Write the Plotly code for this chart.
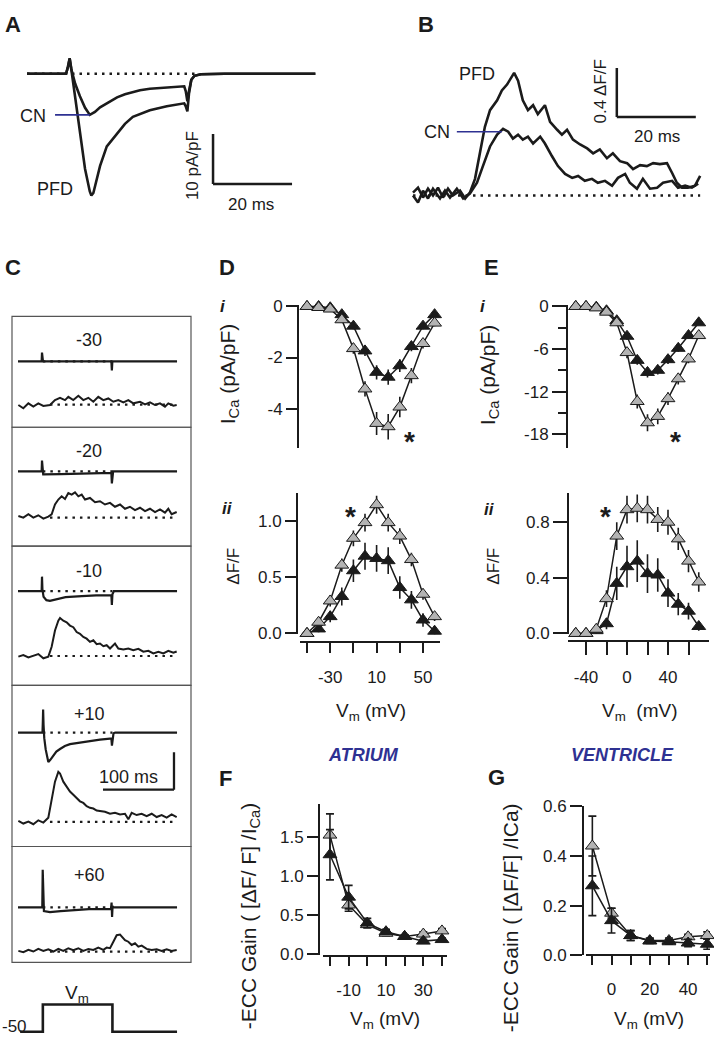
import plotly.graph_objects as go

W, H = 714, 1044
FONT = "Liberation Sans, Arial, Helvetica, sans-serif"
INK = "#1b1b1b"
GRAY = "#b3b3b3"
BLUE = "#2e3192"

# ---------------- data ----------------
# A : whole-cell current (pA/pF) vs time (ms)
A_t_cn = [0, 5, 9.9, 10.4, 10.8, 11.2, 12.2, 13.4, 14.7, 15.9, 17.2, 18.5, 21.0, 22.8, 24.8, 28.6, 31.1, 35.4, 39.8, 40.2, 40.6, 41.0, 41.6, 42.4, 44.0, 50.0, 60.0, 73.0]
A_cn = [0, 0.05, 0, 1.5, 3.0, 1.0, -2.0, -4.5, -6.8, -8.2, -7.6, -6.7, -5.5, -4.7, -4.1, -3.3, -3.0, -2.7, -2.5, -3.5, -5.5, -3.5, -1.2, -0.4, -0.1, 0, 0.05, 0]
A_t_pfd = [0, 5, 9.9, 10.4, 10.8, 11.2, 12.2, 13.4, 14.7, 15.9, 16.3, 16.8, 18.5, 20.2, 22.8, 24.8, 26.8, 31.1, 35.4, 39.8, 40.2, 40.6, 41.0, 41.6, 42.4, 44.0, 50.0, 60.0, 73.0]
A_pfd = [0, 0.05, 0, 1.5, 3.1, 1.0, -5.0, -12.0, -19.0, -23.5, -24.3, -23.8, -18.4, -14.5, -11.9, -10.0, -8.6, -7.3, -6.5, -5.9, -6.5, -7.5, -4.0, -1.2, -0.4, -0.1, 0, 0.05, 0]

# B : Ca transients (dF/F) vs time (ms)
B_t_pfd = [0.0, 1.27, 2.53, 3.80, 5.06, 6.33, 7.59, 8.86, 10.1, 11.9, 13.2, 14.4, 15.7, 17.0, 18.2, 19.5, 21.3, 22.5, 23.8, 25.6, 26.6, 27.8, 29.1, 30.4, 31.6, 33.4, 34.7, 36.5, 37.7, 39.0, 40.5, 42.3, 44.1, 45.6, 47.3, 49.1, 50.6, 52.4, 54.2, 55.7, 57.5, 59.2, 60.8, 62.5, 64.3, 65.6, 66.8, 68.1, 69.6, 71.4, 72.7]
B_pfd = [0.024, 0.064, -0.016, 0.056, 0.0, 0.064, -0.016, 0.056, 0.0, 0.04, -0.024, 0.024, 0.136, 0.344, 0.56, 0.696, 0.776, 0.856, 0.904, 1.0, 0.936, 0.776, 0.696, 0.736, 0.664, 0.736, 0.6, 0.536, 0.496, 0.536, 0.456, 0.416, 0.384, 0.344, 0.376, 0.304, 0.344, 0.28, 0.264, 0.216, 0.248, 0.24, 0.264, 0.256, 0.264, 0.184, 0.104, 0.064, 0.064, 0.08, 0.16]
B_t_cn = [0.0, 1.27, 2.53, 3.80, 5.06, 6.84, 8.10, 9.37, 11.1, 12.7, 14.4, 16.2, 17.7, 19.5, 21.3, 22.8, 24.1, 25.3, 26.6, 27.8, 29.1, 30.4, 32.2, 33.4, 35.2, 36.7, 38.5, 40.3, 41.8, 43.5, 45.3, 46.8, 48.6, 50.4, 51.9, 53.7, 54.9, 56.7, 58.2, 60.0, 61.8, 63.3, 65.6, 67.1, 68.9, 70.6, 72.2]
B_cn = [0.0, -0.056, 0.04, -0.024, 0.056, -0.024, 0.04, -0.016, 0.056, -0.024, 0.016, 0.104, 0.24, 0.4, 0.496, 0.544, 0.52, 0.464, 0.496, 0.456, 0.48, 0.424, 0.48, 0.424, 0.32, 0.24, 0.176, 0.144, 0.16, 0.12, 0.136, 0.104, 0.12, 0.08, 0.144, 0.176, 0.104, 0.056, 0.136, 0.056, 0.064, 0.104, 0.12, 0.064, 0.08, 0.064, 0.096]

# C : example records at five test potentials (current, then dF/F), time in ms
C_labels = ["-30", "-20", "-10", "+10", "+60"]
C_cur_t = [
    [0, 33.3, 33.8, 34.4, 35.2, 131.5, 132.2, 132.9, 224],
    [0, 33.3, 33.8, 34.4, 35.5, 60, 100, 131.5, 132.2, 133, 134, 224],
    [0, 33.3, 33.8, 34.4, 36, 40, 45, 52, 67, 90, 110, 131.5, 132.2, 133, 135, 224],
    [0, 34.5, 35, 35.4, 36, 37, 39, 41, 42.7, 45.5, 49.7, 54, 59.2, 66, 73.2, 92, 115.5, 129.6, 131.5, 132.3, 133.3, 134.5, 137, 224],
    [0, 34.2, 34.8, 35.4, 36.5, 45, 60, 100, 131, 131.8, 132.5, 133.2, 134.5, 224],
]
C_cur = [
    [0, 0, 2.4, 0, 0, 0, -2.4, 0, 0],
    [0, 0, 2.9, 0, -0.8, -0.7, -0.5, -0.4, -3.2, -0.3, 0, 0],
    [0, 0, 3.9, 0.5, -1.5, -2.4, -2.6, -2.3, -1.6, -1.3, -1.1, -1.1, -3.7, -0.8, 0, 0],
    [0, 0, 3, 6.2, 2, -1.5, -4.5, -7, -7.9, -7.3, -6.1, -5.1, -4.4, -3.6, -3.1, -2.5, -1.9, -1.6, -1.6, -3.5, -1.2, -0.2, 0, 0],
    [0, 0, 10.1, 0, -1.0, -1.3, -1.0, -0.5, -0.4, 1.3, -2.6, 0.3, 0, 0],
]
C_fl_t = [
    [0.5, 7.5, 14.6, 21.6, 28.6, 35.7, 45.1, 52.1, 59.2, 66.2, 70.9, 77.9, 85.0, 92.0, 99.1, 106.1, 113.1, 120.2, 127.2, 134.3, 141.3, 148.4, 155.4, 162.4, 171.8, 178.9, 185.9, 193.0, 200.0, 207.0, 211.7, 218.8, 223.5],
    [0.5, 7.5, 14.6, 21.6, 28.6, 35.7, 42.7, 47.4, 52.1, 56.8, 61.5, 66.2, 70.9, 75.6, 80.3, 85.0, 89.7, 94.4, 101.4, 108.5, 115.5, 122.5, 129.6, 136.6, 143.7, 150.7, 157.7, 164.8, 171.8, 178.9, 185.9, 193.0, 200.0, 207.0, 211.7, 216.4, 223.5],
    [0.5, 7.5, 14.6, 21.6, 28.6, 35.7, 42.7, 47.4, 52.1, 56.8, 59.2, 63.8, 68.5, 73.2, 77.9, 82.6, 87.3, 92.0, 96.7, 101.4, 106.1, 110.8, 115.5, 120.2, 124.9, 129.6, 136.6, 141.3, 148.4, 155.4, 162.4, 169.5, 176.5, 183.6, 190.6, 197.7, 204.7, 211.7, 218.8, 223.5],
    [0.5, 7.5, 14.6, 21.6, 28.6, 35.7, 42.7, 47.4, 52.1, 56.8, 59.2, 63.8, 68.5, 73.2, 77.9, 82.6, 87.3, 92.0, 96.7, 101.4, 106.1, 110.8, 115.5, 122.5, 129.6, 136.6, 143.7, 150.7, 155.4, 160.1, 167.1, 174.2, 181.2, 188.3, 195.3, 202.3, 209.4, 216.4, 223.5],
    [0.5, 7.5, 14.6, 21.6, 28.6, 35.7, 42.7, 49.8, 56.8, 63.8, 70.9, 77.9, 85.0, 92.0, 99.1, 106.1, 113.1, 120.2, 124.9, 129.6, 134.3, 139.0, 143.7, 147.4, 150.7, 155.4, 160.1, 164.8, 169.5, 174.2, 181.2, 188.3, 195.3, 202.3, 209.4, 216.4, 223.5],
]
C_fl = [
    [-0.007, -0.073, 0.027, -0.04, 0.027, -0.027, -0.007, 0.093, 0.14, 0.093, 0.16, 0.093, 0.18, 0.093, 0.14, 0.06, 0.16, 0.093, 0.127, 0.06, 0.093, 0.047, 0.093, 0.027, 0.06, 0.007, 0.047, -0.007, 0.027, -0.04, 0.027, -0.02, -0.007],
    [0.033, 0.0, 0.067, 0.0, 0.047, -0.02, 0.02, 0.067, 0.267, 0.367, 0.433, 0.38, 0.5, 0.467, 0.513, 0.433, 0.467, 0.367, 0.4, 0.313, 0.333, 0.267, 0.3, 0.22, 0.267, 0.18, 0.22, 0.153, 0.2, 0.133, 0.18, 0.113, 0.167, 0.1, 0.18, 0.067, 0.113],
    [-0.013, 0.02, -0.027, 0.0, 0.04, -0.047, -0.013, 0.187, 0.52, 0.72, 0.773, 0.72, 0.687, 0.62, 0.587, 0.487, 0.453, 0.387, 0.353, 0.287, 0.32, 0.24, 0.253, 0.2, 0.22, 0.153, 0.253, 0.153, 0.133, 0.153, 0.12, 0.147, 0.087, 0.107, 0.053, 0.087, 0.053, 0.107, 0.067, 0.093],
    [0.02, -0.033, 0.007, -0.047, 0.033, -0.013, 0.087, 0.42, 0.82, 1.02, 0.987, 0.82, 0.72, 0.62, 0.553, 0.487, 0.42, 0.387, 0.32, 0.287, 0.273, 0.233, 0.22, 0.207, 0.167, 0.187, 0.153, 0.167, 0.053, 0.187, 0.14, 0.167, 0.12, 0.167, 0.1, 0.14, 0.087, 0.153, 0.1],
    [0.013, -0.013, 0.033, 0.0, 0.053, 0.013, 0.047, 0.0, 0.053, 0.013, 0.067, 0.027, 0.067, 0.013, 0.053, 0.033, 0.08, 0.033, 0.08, 0.067, 0.2, 0.333, 0.347, 0.28, 0.233, 0.2, 0.133, 0.167, 0.1, 0.12, 0.053, 0.033, 0.047, 0.013, 0.047, 0.013, 0.033],
]
C_vm_t = [3, 35, 35, 133, 133, 224]
C_vm = [-50, -50, 0, 0, -50, -50]

# D : atrium I-V and dF/F-V (black = CN, gray = PFD)
D_v = [-50, -40, -30, -20, -10, 0, 10, 20, 30, 40, 50, 60]
D_i_gray = [0, -0.04, -0.1, -0.52, -1.65, -3.23, -4.58, -4.71, -3.94, -2.71, -1.45, -0.65]
D_i_gray_err = [0.03, 0.03, 0.05, 0.1, 0.2, 0.3, 0.45, 0.5, 0.4, 0.3, 0.2, 0.12]
D_i_black = [0, 0, -0.05, -0.32, -0.77, -1.74, -2.58, -2.77, -2.32, -1.57, -0.77, -0.32]
D_i_black_err = [0.02, 0.02, 0.03, 0.08, 0.12, 0.2, 0.28, 0.3, 0.25, 0.18, 0.12, 0.08]
D_f_gray = [0.0, 0.10, 0.29, 0.61, 0.85, 0.99, 1.15, 0.99, 0.87, 0.66, 0.35, 0.15]
D_f_gray_err = [0.01, 0.03, 0.05, 0.06, 0.07, 0.08, 0.08, 0.08, 0.07, 0.06, 0.05, 0.04]
D_f_black = [0.0, 0.04, 0.15, 0.33, 0.56, 0.69, 0.67, 0.65, 0.41, 0.30, 0.12, 0.02]
D_f_black_err = [0.01, 0.03, 0.05, 0.08, 0.1, 0.12, 0.12, 0.12, 0.1, 0.08, 0.06, 0.03]

# E : ventricle
E_v = [-50, -40, -30, -20, -10, 0, 10, 20, 30, 40, 50, 60, 70]
E_i_gray = [0, 0, -0.2, -0.8, -2.3, -6.5, -13.4, -16.4, -15.5, -13.0, -10.2, -7.4, -4.1]
E_i_gray_err = [0.05, 0.05, 0.1, 0.2, 0.4, 0.8, 1.0, 1.2, 1.1, 0.9, 0.8, 0.6, 0.5]
E_i_black = [0, 0, -0.1, -0.6, -2.0, -4.2, -7.6, -9.3, -9.0, -7.5, -5.9, -4.1, -2.3]
E_i_black_err = [0.05, 0.05, 0.1, 0.2, 0.3, 0.5, 0.6, 0.7, 0.6, 0.6, 0.5, 0.4, 0.3]
E_f_gray = [0, 0, 0.03, 0.25, 0.70, 0.89, 0.90, 0.89, 0.82, 0.80, 0.68, 0.52, 0.37]
E_f_gray_err = [0.01, 0.01, 0.02, 0.06, 0.1, 0.1, 0.1, 0.1, 0.09, 0.09, 0.08, 0.08, 0.07]
E_f_black = [0, 0, 0.02, 0.07, 0.36, 0.48, 0.52, 0.43, 0.42, 0.29, 0.21, 0.16, 0.05]
E_f_black_err = [0.01, 0.01, 0.02, 0.04, 0.12, 0.15, 0.15, 0.14, 0.12, 0.1, 0.08, 0.06, 0.03]

# F, G : ECC gain
F_v = [-20, -10, 0, 10, 20, 30, 40]
F_gray = [1.52, 0.63, 0.38, 0.27, 0.23, 0.26, 0.30]
F_gray_err = [0.27, 0.08, 0.04, 0.03, 0.02, 0.03, 0.03]
F_black = [1.27, 0.73, 0.40, 0.29, 0.23, 0.17, 0.19]
F_black_err = [0.32, 0.15, 0.06, 0.03, 0.02, 0.02, 0.02]
G_v = [-10, 0, 10, 20, 30, 40, 50]
G_gray = [0.44, 0.17, 0.08, 0.06, 0.06, 0.075, 0.08]
G_gray_err = [0.12, 0.02, 0.02, 0.01, 0.01, 0.01, 0.015]
G_black = [0.28, 0.14, 0.08, 0.058, 0.055, 0.05, 0.045]
G_black_err = [0.12, 0.05, 0.02, 0.01, 0.01, 0.015, 0.02]

# ---------------- helpers ----------------
fig = go.Figure()
axes = {}
shapes = []
annots = []


def akey(ref):
    return ('xaxis' if ref[0] == 'x' else 'yaxis') + ref[1:]


def base_axis():
    return dict(showgrid=False, zeroline=False, showline=False, showticklabels=False,
                ticks='', fixedrange=True, anchor='free', position=0)


def set_x(ref, p0, p1, pa, va, pb, vb, **kw):
    s = (vb - va) / (pb - pa)
    d = base_axis()
    d.update(domain=[p0 / W, p1 / W], range=[va + (p0 - pa) * s, va + (p1 - pa) * s])
    d.update(kw)
    axes[akey(ref)] = d


def set_y(ref, top, bottom, pa, va, pb, vb, **kw):
    s = (vb - va) / (pb - pa)
    d = base_axis()
    d.update(domain=[1 - bottom / H, 1 - top / H], range=[va + (bottom - pa) * s, va + (top - pa) * s])
    d.update(kw)
    axes[akey(ref)] = d


def vis(vals, texts, ticklen, pos, minor_vals=None, minor_len=None, **kw):
    d = dict(showline=True, linecolor=INK, linewidth=2, ticks='outside', tickcolor=INK,
             tickwidth=2, ticklen=ticklen, showticklabels=True, tickmode='array',
             tickvals=vals, ticktext=texts, tickfont=dict(size=17, color=INK, family=FONT),
             position=pos)
    if minor_vals:
        d['minor'] = dict(tickmode='array', tickvals=minor_vals, ticks='outside',
                          ticklen=minor_len or ticklen, tickwidth=2, tickcolor=INK)
    d.update(kw)
    return d


def trace_line(xr, yr, x, y, width=2.4, color=INK):
    fig.add_trace(go.Scatter(x=x, y=y, xaxis=xr, yaxis=yr, mode='lines',
                             line=dict(color=color, width=width), hoverinfo='skip'))


def trace_pts(xr, yr, x, y, err, fill, cap=0):
    fig.add_trace(go.Scatter(
        x=x, y=y, xaxis=xr, yaxis=yr, mode='lines+markers', cliponaxis=False,
        line=dict(color=INK, width=1.5),
        marker=dict(symbol='triangle-up', size=12, color=fill, line=dict(color=INK, width=1)),
        error_y=dict(type='data', array=err, visible=True, color=INK, thickness=1.6, width=cap),
        hoverinfo='skip'))


def seg(xr, yr, x0, y0, x1, y1, width=2.5, color=INK, dash=None):
    ln = dict(color=color, width=width)
    if dash:
        ln['dash'] = dash
    shapes.append(dict(type='line', xref=xr, yref=yr, x0=x0, y0=y0, x1=x1, y1=y1, line=ln))


def txt(s, px, py, size=17, color=INK, angle=0, xanchor='center'):
    annots.append(dict(text=s, x=px / W, y=1 - py / H, xref='paper', yref='paper', showarrow=False,
                       font=dict(size=size, color=color, family=FONT), textangle=angle,
                       xanchor=xanchor, yanchor='middle'))


DOT = '2.5px,5px'

# ---------------- A ----------------
set_x('x', 20, 322, 27, 0, 27 + 3.95, 1)
set_y('y', 40, 205, 66, 0, 66 - 5.1, 1)
seg('x', 'y', 0, 0, 42.5, 0, width=2.5, dash=DOT)
trace_line('x', 'y', A_t_cn, A_cn, 2.6)
trace_line('x', 'y', A_t_pfd, A_pfd, 2.6)
seg('x', 'y', 7.1, -8.2, 15.9, -8.2, width=1.6, color=BLUE)
seg('x', 'y', 47.1, -12, 47.1, -22, width=2.5)
seg('x', 'y', 47.1, -22, 67.1, -22, width=2.5)
txt("CN", 33, 108.5, 18)
txt("PFD", 55, 183.5, 18)
txt("10 pA/pF", 192, 160, 17, angle=-90)
txt("20 ms", 251, 199, 17)

# ---------------- B ----------------
set_x('x2', 405, 712, 413, 0, 413 + 3.95, 1)
set_y('y2', 40, 205, 190, 0, 190 - 125, 1)
seg('x2', 'y2', 0, 0, 72.7, 0, width=2.5, dash=DOT)
trace_line('x2', 'y2', B_t_pfd, B_pfd, 2.6)
trace_line('x2', 'y2', B_t_cn, B_cn, 2.6)
seg('x2', 'y2', 11.1, 0.52, 22.5, 0.52, width=1.6, color=BLUE)
seg('x2', 'y2', 51.6, 1.04, 51.6, 0.64, width=2.5)
seg('x2', 'y2', 51.6, 0.64, 71.6, 0.64, width=2.5)
txt("PFD", 477, 66, 18)
txt("CN", 437, 125, 18)
txt("0.4 ΔF/F", 600, 84, 17, angle=-90)
txt("20 ms", 657, 130, 17)

# ---------------- C ----------------
set_x('x3', 12, 191, 18, 0, 18.71, 1)
boxes = [(313, 426), (426, 547), (547, 689), (689, 853), (853, 971)]
cur_base = [359, 471, 593, 737, 915]
fl_base = [403, 518, 659, 828, 960]
lab_y = [337, 450, 572, 718, 882]
for i in range(5):
    top, bot = boxes[i]
    yc = 'y%d' % (3 + 2 * i)
    yf = 'y%d' % (4 + 2 * i)
    set_y(yc, top, bot, cur_base[i], 0, cur_base[i] - 3.8, 1)
    set_y(yf, top, bot, fl_base[i], 0, fl_base[i] - 50, 1)
    shapes.append(dict(type='rect', xref='paper', yref='paper', x0=12 / W, x1=191 / W,
                       y0=1 - bot / H, y1=1 - top / H, line=dict(color='#555555', width=1.2)))
    seg('x3', yc, 35, 0, 133, 0, width=2.2, dash=DOT)
    seg('x3', yf, 45, 0, 218, 0, width=2.2, dash=DOT)
    trace_line('x3', yc, C_cur_t[i], C_cur[i], 2.2)
    trace_line('x3', yf, C_fl_t[i], C_fl[i], 2.0)
    txt(C_labels[i], 89, lab_y[i], 18)
# scale bar in +10 box (100 ms)
seg('x3', 'y9', 219.7, -5.3, 219.7, -15.3, width=2.3)
seg('x3', 'y9', 119.7, -15.3, 219.7, -15.3, width=2.3)
txt("100 ms", 128, 782, 18)
# voltage protocol
set_y('y13', 990, 1044, 1041.7, -50, 1014, 0)
trace_line('x3', 'y13', C_vm_t, C_vm, 2.6)
txt("V<sub>m</sub>", 77, 1003, 19)
txt("-50", 14, 1036, 17)

# ---------------- D ----------------
set_x('x4', 298, 445, 307, -50, 423, 50)
set_y('y14', 301, 447, 303, 0, 407, -4,
      **vis([0, -2, -4], ['0', '-2', '-4'], 11, 298 / W))
set_x('x5', 300, 440, 307, -50, 423, 50,
      **vis([-30, 10, 50], ['-30', '10', '50'], 10, 1 - 645 / H,
            minor_vals=[-50, -10, 30], ticklabelstandoff=9))
set_y('y15', 493, 637, 636, 0, 522, 1.0,
      **vis([0, 0.5, 1.0], ['0.0', '0.5', '1.0'], 11, 297 / W))
trace_pts('x4', 'y14', D_v, D_i_black, D_i_black_err, INK)
trace_pts('x4', 'y14', D_v, D_i_gray, D_i_gray_err, GRAY)
trace_pts('x5', 'y15', D_v, D_f_black, D_f_black_err, INK)
trace_pts('x5', 'y15', D_v, D_f_gray, D_f_gray_err, GRAY)

# ---------------- E ----------------
set_x('x6', 568, 709, 627, 0, 668, 40)
set_y('y16', 301, 447, 303, 0, 433, -18,
      **vis([0, -6, -12, -18], ['0', '-6', '-12', '-18'], 14, 567 / W,
            minor_vals=[-3, -9, -15], minor_len=8))
set_x('x7', 568, 709, 627, 0, 668, 40,
      **vis([-40, 0, 40], ['-40', '0', '40'], 13, 1 - 644 / H,
            minor_vals=[-20, 20, 60], ticklabelstandoff=7))
set_y('y17', 493, 637, 636, 0, 522.7, 0.8,
      **vis([0, 0.4, 0.8], ['0.0', '0.4', '0.8'], 14, 568 / W))
trace_pts('x6', 'y16', E_v, E_i_black, E_i_black_err, INK)
trace_pts('x6', 'y16', E_v, E_i_gray, E_i_gray_err, GRAY)
trace_pts('x7', 'y17', E_v, E_f_black, E_f_black_err, INK)
trace_pts('x7', 'y17', E_v, E_f_gray, E_f_gray_err, GRAY)

# ---------------- F ----------------
set_x('x8', 323, 447, 367.3, 0, 385.97, 10,
      **vis([-10, 10, 30], ['-10', '10', '30'], 9, 1 - 965 / H,
            minor_vals=[-20, 0, 20, 40], ticklabelstandoff=9))
set_y('y18', 810, 964, 963, 0, 843, 1.5,
      **vis([0, 0.5, 1.0, 1.5], ['0.0', '0.5', '1.0', '1.5'], 11, 319 / W))
trace_pts('x8', 'y18', F_v, F_gray, F_gray_err, GRAY, cap=4)
trace_pts('x8', 'y18', F_v, F_black, F_black_err, INK, cap=4)

# ---------------- G ----------------
set_x('x9', 586, 710, 611.5, 0, 649.8, 20,
      **vis([0, 20, 40], ['0', '20', '40'], 9, 1 - 964 / H,
            minor_vals=[-10, 10, 30, 50], ticklabelstandoff=9))
set_y('y19', 812, 964, 964, 0, 812, 0.6,
      **vis([0, 0.2, 0.4, 0.6], ['0.0', '0.2', '0.4', '0.6'], 12, 583 / W))
trace_pts('x9', 'y19', G_v, G_gray, G_gray_err, GRAY, cap=4)
trace_pts('x9', 'y19', G_v, G_black, G_black_err, INK, cap=4)

# ---------------- labels ----------------
for s, px, py in [("A", 12.5, 15.5), ("B", 425.5, 15.5), ("C", 13, 263), ("D", 227, 263),
                  ("E", 491, 263), ("F", 225, 784), ("G", 496, 783)]:
    txt("<b>%s</b>" % s, px, py, 22)
for s, px, py in [("i", 223, 303), ("ii", 227, 509), ("i", 483, 303), ("ii", 489, 510)]:
    txt("<b><i>%s</i></b>" % s, px, py, 17)
for px, py in [(410, 441), (350, 517), (675, 441), (605, 517)]:
    txt("<b>*</b>", px, py, 28)
txt("I<sub>Ca</sub> (pA/pF)", 229, 372, 21, angle=-90)
txt("I<sub>Ca</sub> (pA/pF)", 489, 373, 21, angle=-90)
txt("ΔF/F", 234, 568, 17, angle=-90)
txt("ΔF/F", 494, 568, 17, angle=-90)
txt("V<sub>m</sub> (mV)", 371, 716, 19)
txt("V<sub>m</sub>  (mV)", 639, 716, 19)
txt("V<sub>m</sub> (mV)", 385, 1030, 19)
txt("V<sub>m</sub> (mV)", 649, 1030, 19)
txt("-ECC Gain ( [ΔF/ F] /I<sub>Ca</sub>)", 250, 923, 21, angle=-90)
txt("-ECC Gain ( [ΔF/F] /ICa)", 510, 926, 21, angle=-90)
txt("<b><i>ATRIUM</i></b>", 363, 760, 18, color=BLUE)
txt("<b><i>VENTRICLE</i></b>", 622, 760, 18, color=BLUE)

fig.update_layout(
    width=W, height=H, margin=dict(l=0, r=0, t=0, b=0), autosize=False,
    paper_bgcolor='white', plot_bgcolor='rgba(0,0,0,0)', showlegend=False,
    font=dict(family=FONT, color=INK, size=16),
    shapes=shapes, annotations=annots, **axes)

PAGE_CSS = ("var s=document.createElement('style');"
            "s.textContent='html,body{margin:0;padding:0;overflow:hidden;width:714px;height:1044px;}"
            "body>div{margin:0;padding:0;line-height:0;}';"
            "document.head.appendChild(s);")

fig.write_html("out.html", config={'displayModeBar': False, 'staticPlot': True},
               post_script=PAGE_CSS)
